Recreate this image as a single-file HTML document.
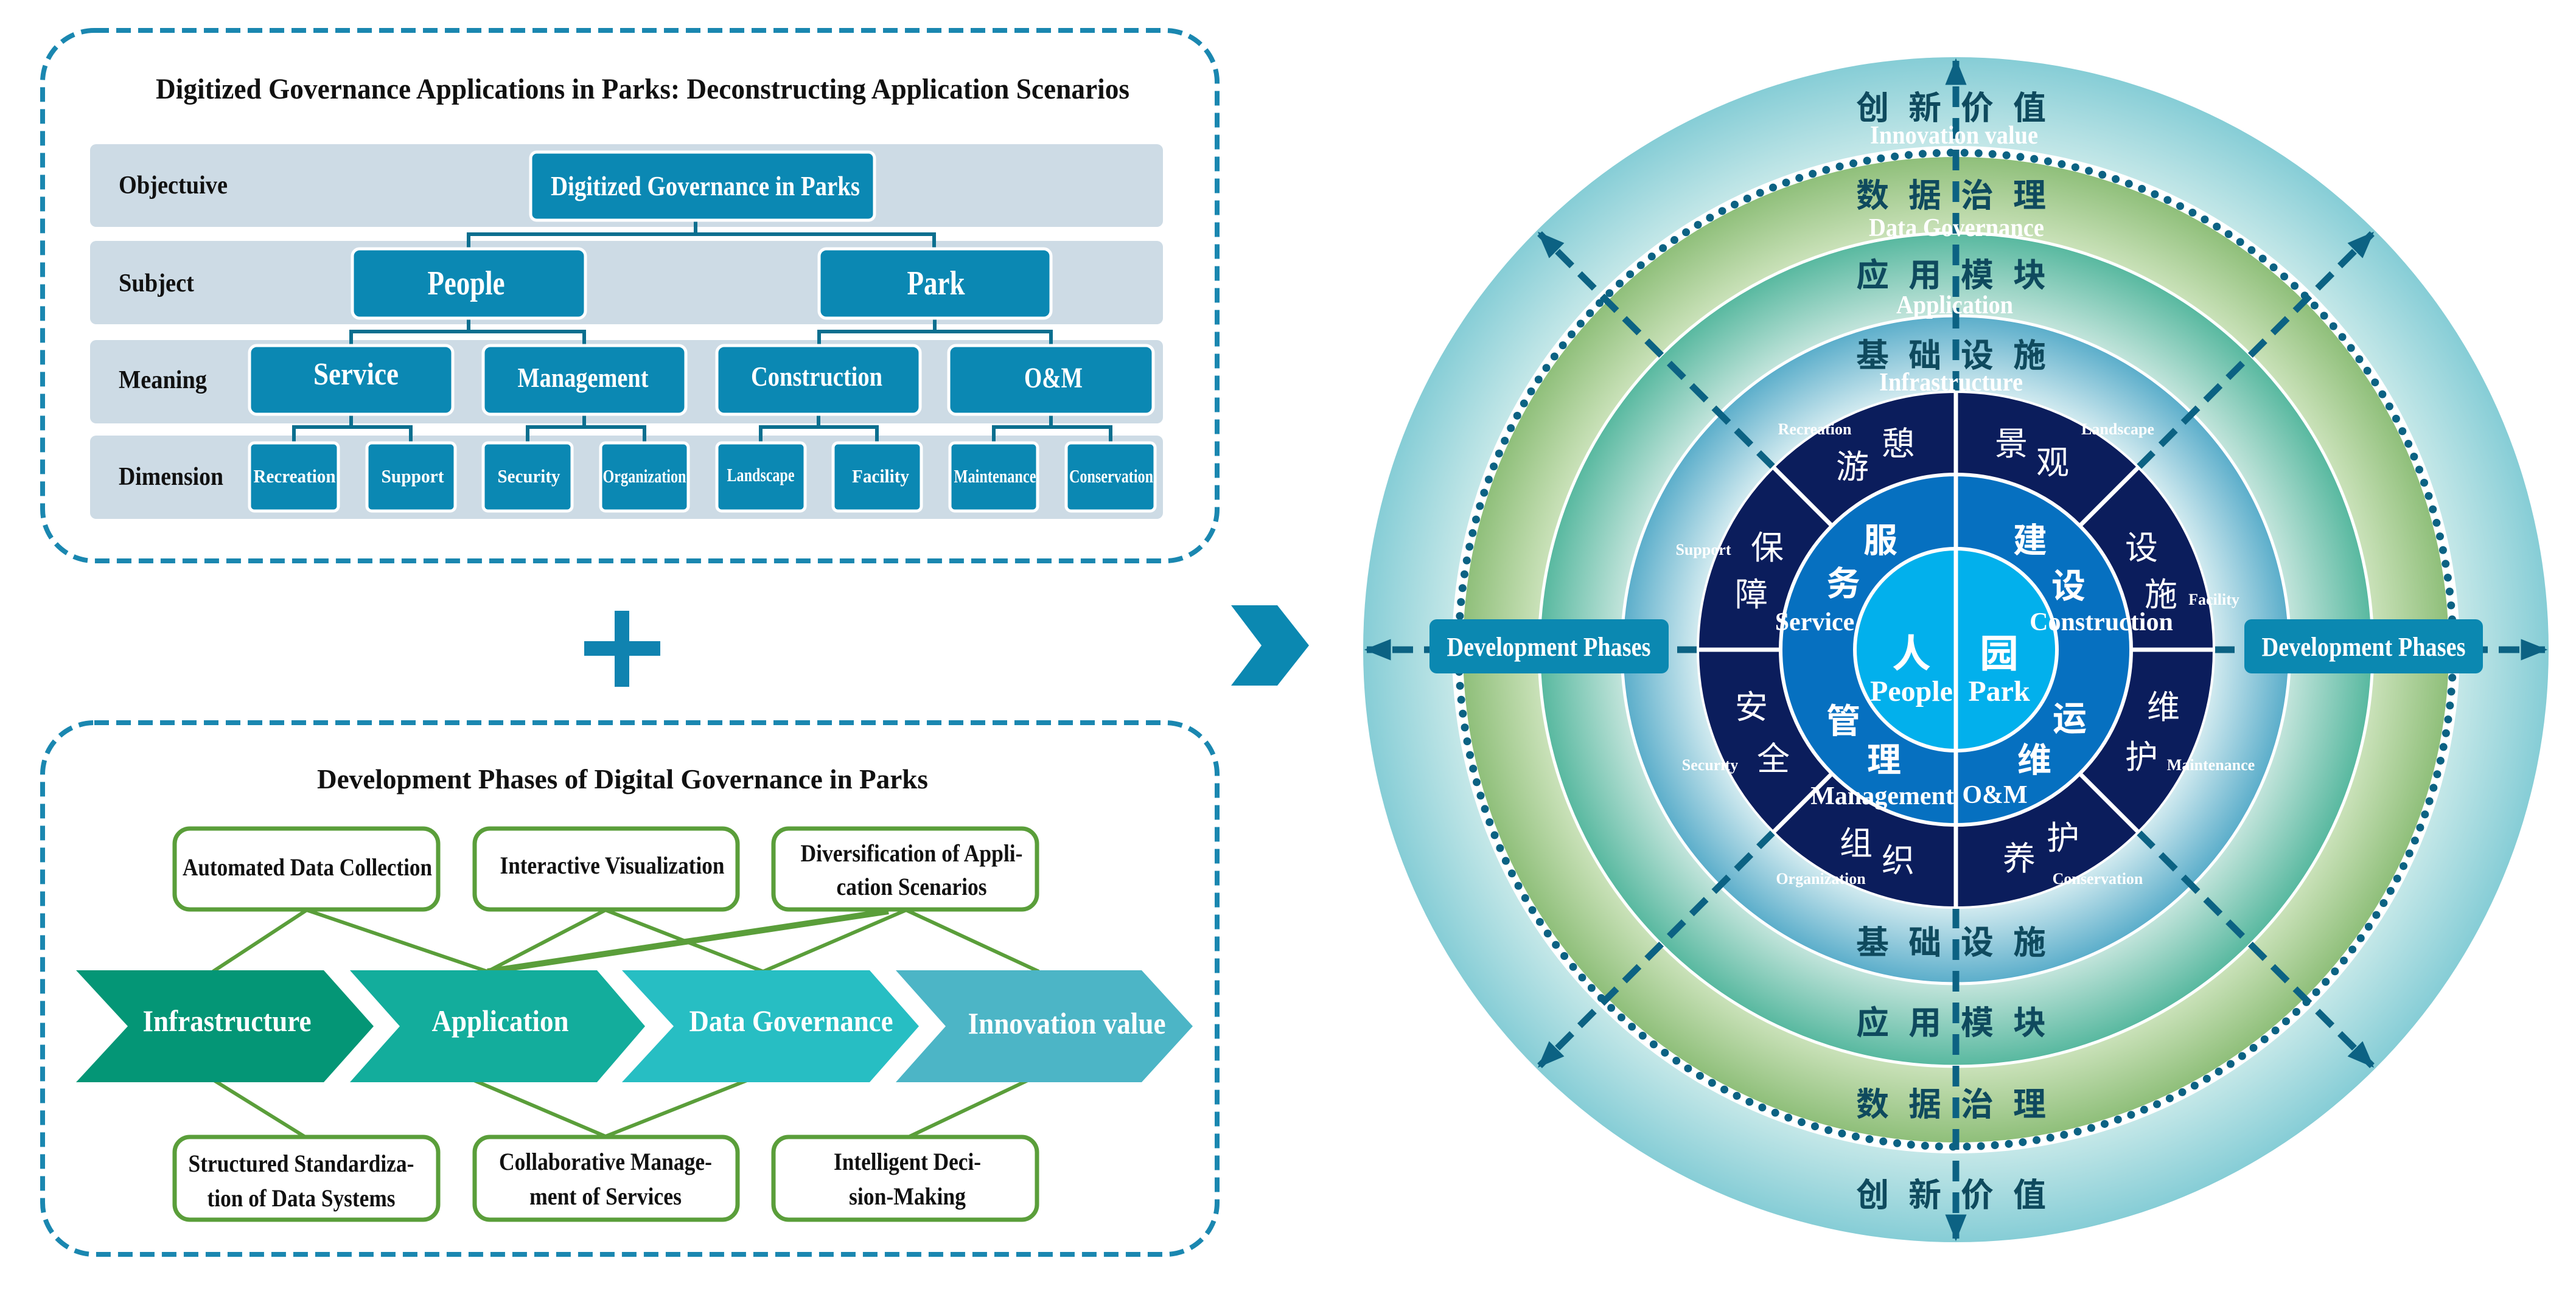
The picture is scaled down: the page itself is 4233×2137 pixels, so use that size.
<!DOCTYPE html>
<html><head><meta charset="utf-8"><style>
html,body{margin:0;padding:0;background:#fff;}
svg{display:block;}
.t{font-family:"Liberation Serif",serif;font-weight:bold;}
.c{font-family:"Liberation Sans","Noto Sans CJK SC",sans-serif;}
</style></head><body>
<svg width="4233" height="2137" viewBox="0 0 4233 2137" xmlns="http://www.w3.org/2000/svg">
<defs>
<radialGradient id="gOut" gradientUnits="userSpaceOnUse" cx="3214" cy="1068" r="974">
<stop offset="0.84" stop-color="#c8e9e9"/><stop offset="1" stop-color="#86cdd6"/></radialGradient>
<radialGradient id="gGreen" gradientUnits="userSpaceOnUse" cx="3214" cy="1068" r="810">
<stop offset="0.85" stop-color="#c9e1b8"/><stop offset="1" stop-color="#8fbf7a"/></radialGradient>
<radialGradient id="gTeal" gradientUnits="userSpaceOnUse" cx="3214" cy="1068" r="685">
<stop offset="0.8" stop-color="#c4e5dc"/><stop offset="1" stop-color="#57b89f"/></radialGradient>
<radialGradient id="gBlue" gradientUnits="userSpaceOnUse" cx="3214" cy="1068" r="549">
<stop offset="0.77" stop-color="#d3ebf0"/><stop offset="1" stop-color="#5aadca"/></radialGradient>
<marker id="ah" viewBox="0 0 10 10" refX="9" refY="5" markerWidth="4" markerHeight="3.2" orient="auto" markerUnits="strokeWidth" preserveAspectRatio="none">
<path d="M0,0 L10,5 L0,10 z" fill="#0c6283"/></marker>
</defs>
<rect width="4233" height="2137" fill="#fff"/>

<rect x="70" y="50" width="1930" height="872" rx="85" fill="none" stroke="#1a87b0" stroke-width="8" stroke-dasharray="24 12"/>
<text class="t" x="1056" y="162" font-size="48" text-anchor="middle" textLength="1600" lengthAdjust="spacingAndGlyphs" fill="#111">Digitized Governance Applications in Parks: Deconstructing Application Scenarios</text>

<g fill="#cddbe5">
<rect x="148" y="237" width="1763" height="136" rx="10"/>
<rect x="148" y="396" width="1763" height="137" rx="10"/>
<rect x="148" y="559" width="1763" height="137" rx="10"/>
<rect x="148" y="716" width="1763" height="137" rx="10"/>
</g>
<g class="t" font-size="42" fill="#111">
<text x="195" y="318" textLength="179" lengthAdjust="spacingAndGlyphs">Objectuive</text>
<text x="195" y="479" textLength="124" lengthAdjust="spacingAndGlyphs">Subject</text>
<text x="195" y="638" textLength="145" lengthAdjust="spacingAndGlyphs">Meaning</text>
<text x="195" y="797" textLength="172" lengthAdjust="spacingAndGlyphs">Dimension</text>
</g>

<g stroke="#0b6f8f" stroke-width="6" fill="none">
<path d="M1143 362 V385 M770 409 V385 H1535 V409"/>
<path d="M770 523 V545 M577 568 V545 H960 V568"/>
<path d="M1536 523 V545 M1346 568 V545 H1727 V568"/>
<path d="M577 681 V702 M483 728 V702 H675 V728"/>
<path d="M960 681 V702 M867 728 V702 H1059 V728"/>
<path d="M1345 681 V702 M1250 728 V702 H1441 V728"/>
<path d="M1727 681 V702 M1633 728 V702 H1825 V728"/>
</g>

<g fill="#0b88b3" stroke="#fff" stroke-width="5">
<rect x="872" y="250" width="565" height="112" rx="10"/>
<rect x="579" y="409" width="383" height="114" rx="12"/>
<rect x="1346" y="409" width="381" height="114" rx="12"/>
<rect x="410" y="568" width="334" height="113" rx="12"/>
<rect x="794" y="568" width="333" height="113" rx="12"/>
<rect x="1178" y="568" width="334" height="113" rx="12"/>
<rect x="1559" y="568" width="336" height="113" rx="12"/>
<rect x="410" y="728" width="146" height="112" rx="8"/>
<rect x="603" y="728" width="145" height="112" rx="8"/>
<rect x="794" y="728" width="146" height="112" rx="8"/>
<rect x="987" y="728" width="144" height="112" rx="8"/>
<rect x="1178" y="728" width="145" height="112" rx="8"/>
<rect x="1369" y="728" width="145" height="112" rx="8"/>
<rect x="1561" y="728" width="144" height="112" rx="8"/>
<rect x="1752" y="728" width="146" height="112" rx="8"/>
</g>
<g class="t" fill="#fff" text-anchor="middle">
<text x="1159" y="321" font-size="46" textLength="508" lengthAdjust="spacingAndGlyphs">Digitized Governance in Parks</text>
<text x="766" y="484" font-size="56" textLength="127" lengthAdjust="spacingAndGlyphs">People</text>
<text x="1538" y="484" font-size="56" textLength="95" lengthAdjust="spacingAndGlyphs">Park</text>
<text x="585" y="632" font-size="52" textLength="140" lengthAdjust="spacingAndGlyphs">Service</text>
<text x="958" y="636" font-size="46" textLength="215" lengthAdjust="spacingAndGlyphs">Management</text>
<text x="1342" y="634" font-size="46" textLength="216" lengthAdjust="spacingAndGlyphs">Construction</text>
<text x="1731" y="637" font-size="48" textLength="96" lengthAdjust="spacingAndGlyphs">O&amp;M</text>
<g font-size="31">
<text x="484" y="793" textLength="135" lengthAdjust="spacingAndGlyphs">Recreation</text>
<text x="678" y="793" textLength="103" lengthAdjust="spacingAndGlyphs">Support</text>
<text x="869" y="793" textLength="103" lengthAdjust="spacingAndGlyphs">Security</text>
<text x="1059" y="793" textLength="137" lengthAdjust="spacingAndGlyphs">Organization</text>
<text x="1250" y="791" textLength="111" lengthAdjust="spacingAndGlyphs">Landscape</text>
<text x="1447" y="793" textLength="94" lengthAdjust="spacingAndGlyphs">Facility</text>
<text x="1635" y="793" textLength="135" lengthAdjust="spacingAndGlyphs">Maintenance</text>
<text x="1826" y="793" textLength="138" lengthAdjust="spacingAndGlyphs">Conservation</text>
</g>
</g>

<rect x="960" y="1054" width="125" height="24" fill="#1083b0"/>
<rect x="1010" y="1004" width="24" height="125" fill="#1083b0"/>

<rect x="70" y="1188" width="1930" height="874" rx="85" fill="none" stroke="#1a87b0" stroke-width="8" stroke-dasharray="24 12"/>
<text class="t" x="1023" y="1296" font-size="46" text-anchor="middle" textLength="1004" lengthAdjust="spacingAndGlyphs" fill="#111">Development Phases of Digital Governance in Parks</text>

<g stroke="#5a9e3a" stroke-width="6" fill="none">
<path d="M504 1496 L350 1597 M504 1496 L801 1597"/>
<path d="M995 1496 L801 1597 M995 1496 L1254 1597"/>
<path d="M1489 1496 L1254 1597 M1489 1496 L1707 1597"/>
<path d="M1460 1498 L801 1597" stroke-width="10"/>
<path d="M347 1773 L500 1868 M772 1773 L995 1868 M1235 1773 L995 1868 M1695 1773 L1495 1868"/>
</g>

<polygon points="125,1595 532,1595 614,1687 532,1779 125,1779 210,1687" fill="#049676"/>
<polygon points="575,1595 981,1595 1060,1687 981,1779 575,1779 657,1687" fill="#13ad9c"/>
<polygon points="1022,1595 1429,1595 1510,1687 1429,1779 1022,1779 1107,1687" fill="#27bec3"/>
<polygon points="1472,1595 1876,1595 1960,1687 1876,1779 1472,1779 1554,1687" fill="#4cb5c6"/>
<g class="t" fill="#fff" font-size="50" text-anchor="middle">
<text x="373" y="1695" textLength="277" lengthAdjust="spacingAndGlyphs">Infrastructure</text>
<text x="822" y="1695" textLength="225" lengthAdjust="spacingAndGlyphs">Application</text>
<text x="1300" y="1695" textLength="335" lengthAdjust="spacingAndGlyphs">Data Governance</text>
<text x="1753" y="1699" textLength="325" lengthAdjust="spacingAndGlyphs">Innovation value</text>
</g>

<g fill="#fff" stroke="#5a9e3a" stroke-width="7">
<rect x="287" y="1362" width="433" height="133" rx="25"/>
<rect x="780" y="1362" width="432" height="133" rx="25"/>
<rect x="1271" y="1362" width="433" height="133" rx="25"/>
<rect x="287" y="1869" width="433" height="136" rx="25"/>
<rect x="780" y="1869" width="432" height="136" rx="25"/>
<rect x="1271" y="1869" width="433" height="136" rx="25"/>
</g>
<g class="t" fill="#111" font-size="40" text-anchor="middle">
<text x="505" y="1439" textLength="410" lengthAdjust="spacingAndGlyphs">Automated Data Collection</text>
<text x="1006" y="1436" textLength="369" lengthAdjust="spacingAndGlyphs">Interactive Visualization</text>
<text x="1498" y="1416" textLength="365" lengthAdjust="spacingAndGlyphs">Diversification of Appli-</text>
<text x="1498" y="1471" textLength="247" lengthAdjust="spacingAndGlyphs">cation Scenarios</text>
<text x="495" y="1926" textLength="371" lengthAdjust="spacingAndGlyphs">Structured Standardiza-</text>
<text x="495" y="1983" textLength="309" lengthAdjust="spacingAndGlyphs">tion of Data Systems</text>
<text x="995" y="1923" textLength="350" lengthAdjust="spacingAndGlyphs">Collaborative Manage-</text>
<text x="995" y="1980" textLength="250" lengthAdjust="spacingAndGlyphs">ment of Services</text>
<text x="1491" y="1923" textLength="242" lengthAdjust="spacingAndGlyphs">Intelligent Deci-</text>
<text x="1491" y="1980" textLength="192" lengthAdjust="spacingAndGlyphs">sion-Making</text>
</g>

<polygon points="2023,995 2099,995 2151,1061 2099,1127 2023,1127 2073,1061" fill="#0b88b1"/>

<circle cx="3214" cy="1068" r="974" fill="url(#gOut)"/>
<circle cx="3214" cy="1068" r="828" fill="#fff"/>
<circle cx="3214" cy="1068" r="810" fill="url(#gGreen)"/>
<circle cx="3214" cy="1068" r="685" fill="url(#gTeal)" stroke="#fff" stroke-width="5"/>
<circle cx="3214" cy="1068" r="549" fill="url(#gBlue)" stroke="#fff" stroke-width="5"/>
<circle cx="3214" cy="1068" r="817" fill="none" stroke="#0c6283" stroke-width="13" stroke-linecap="round" stroke-dasharray="0 23"/>

<g stroke="#0c6283" stroke-width="11" fill="none" stroke-dasharray="34 18">
<line x1="3214" y1="644" x2="3214" y2="100" marker-end="url(#ah)"/>
<line x1="3214" y1="1492" x2="3214" y2="2036" marker-end="url(#ah)"/>
<line x1="2790" y1="1068" x2="2246" y2="1068" marker-end="url(#ah)"/>
<line x1="3638" y1="1068" x2="4182" y2="1068" marker-end="url(#ah)"/>
<line x1="2914" y1="768" x2="2530" y2="384" marker-end="url(#ah)"/>
<line x1="3514" y1="768" x2="3898" y2="384" marker-end="url(#ah)"/>
<line x1="2914" y1="1368" x2="2530" y2="1752" marker-end="url(#ah)"/>
<line x1="3514" y1="1368" x2="3898" y2="1752" marker-end="url(#ah)"/>
</g>

<circle cx="3214" cy="1068" r="424" fill="#0b1d5c" stroke="#fff" stroke-width="4"/>
<circle cx="3214" cy="1068" r="288" fill="#0670c0" stroke="#fff" stroke-width="6"/>
<circle cx="3214" cy="1068" r="166" fill="#02b0ec" stroke="#fff" stroke-width="6"/>
<g stroke="#fff" stroke-width="7">
<line x1="3214" y1="644" x2="3214" y2="1492"/>
<line x1="2790" y1="1068" x2="2926" y2="1068"/>
<line x1="3502" y1="1068" x2="3638" y2="1068"/>
<line x1="3010" y1="864" x2="2914" y2="768"/>
<line x1="3418" y1="864" x2="3514" y2="768"/>
<line x1="3010" y1="1272" x2="2914" y2="1368"/>
<line x1="3418" y1="1272" x2="3514" y2="1368"/>
</g>

<g class="c" font-weight="bold" font-size="54" fill="#0f4a5e" text-anchor="middle">
<g transform="translate(0,196)"><text x="3077">创</text><text x="3163">新</text><text x="3249">价</text><text x="3335">值</text></g>
<g transform="translate(0,340)"><text x="3077">数</text><text x="3163">据</text><text x="3249">治</text><text x="3335">理</text></g>
<g transform="translate(0,471)"><text x="3077">应</text><text x="3163">用</text><text x="3249">模</text><text x="3335">块</text></g>
<g transform="translate(0,603)"><text x="3077">基</text><text x="3163">础</text><text x="3249">设</text><text x="3335">施</text></g>
<g transform="translate(0,1568)"><text x="3077">基</text><text x="3163">础</text><text x="3249">设</text><text x="3335">施</text></g>
<g transform="translate(0,1700)"><text x="3077">应</text><text x="3163">用</text><text x="3249">模</text><text x="3335">块</text></g>
<g transform="translate(0,1834)"><text x="3077">数</text><text x="3163">据</text><text x="3249">治</text><text x="3335">理</text></g>
<g transform="translate(0,1983)"><text x="3077">创</text><text x="3163">新</text><text x="3249">价</text><text x="3335">值</text></g>
</g>
<g class="t" fill="#fff" text-anchor="middle" font-size="42">
<text x="3211" y="236" textLength="276" lengthAdjust="spacingAndGlyphs">Innovation value</text>
<text x="3215" y="388" textLength="288" lengthAdjust="spacingAndGlyphs">Data Governance</text>
<text x="3212" y="515" textLength="192" lengthAdjust="spacingAndGlyphs">Application</text>
<text x="3206" y="642" textLength="236" lengthAdjust="spacingAndGlyphs">Infrastructure</text>
</g>

<rect x="2349" y="1018" width="393" height="89" rx="12" fill="#0b88b1"/>
<rect x="3688" y="1018" width="392" height="89" rx="12" fill="#0b88b1"/>
<g class="t" fill="#fff" font-size="44" text-anchor="middle">
<text x="2545" y="1078" textLength="335" lengthAdjust="spacingAndGlyphs">Development Phases</text>
<text x="3884" y="1078" textLength="335" lengthAdjust="spacingAndGlyphs">Development Phases</text>
</g>

<g class="c" fill="#fff" font-size="54" text-anchor="middle">
<text x="3044" y="786">游</text><text x="3119" y="748">憩</text>
<text x="3305" y="748">景</text><text x="3373" y="779">观</text>
<text x="2904" y="919">保</text><text x="2878" y="996">障</text>
<text x="3519" y="919">设</text><text x="3551" y="996">施</text>
<text x="2878" y="1181">安</text><text x="2914" y="1266">全</text>
<text x="3555" y="1181">维</text><text x="3519" y="1263">护</text>
<text x="3050" y="1405">组</text><text x="3119" y="1433">织</text>
<text x="3318" y="1430">养</text><text x="3390" y="1396">护</text>
</g>
<g class="t" fill="#fff" font-size="26" text-anchor="middle">
<text x="2982" y="714">Recreation</text>
<text x="3480" y="714">Landscape</text>
<text x="2799" y="912">Support</text>
<text x="3638" y="994">Facility</text>
<text x="2810" y="1266">Security</text>
<text x="3633" y="1266">Maintenance</text>
<text x="2992" y="1453">Organization</text>
<text x="3447" y="1453">Conservation</text>
</g>
<g class="c" fill="#fff" font-weight="bold" font-size="56" text-anchor="middle">
<text x="3090" y="908">服</text><text x="3029" y="979">务</text>
<text x="3336" y="908">建</text><text x="3399" y="983">设</text>
<text x="3029" y="1205">管</text><text x="3096" y="1269">理</text>
<text x="3401" y="1201">运</text><text x="3343" y="1269">维</text>
</g>
<g class="t" fill="#fff" font-size="42" text-anchor="middle">
<text x="2982" y="1036">Service</text>
<text x="3453" y="1036">Construction</text>
<text x="3093" y="1322">Management</text>
<text x="3278" y="1320">O&amp;M</text>
</g>
<g class="c" fill="#fff" font-weight="bold" font-size="64" text-anchor="middle">
<text x="3141" y="1097">人</text><text x="3285" y="1097">园</text>
</g>
<g class="t" fill="#fff" font-size="48" text-anchor="middle">
<text x="3141" y="1152">People</text><text x="3285" y="1152">Park</text>
</g>
</svg>
</body></html>
